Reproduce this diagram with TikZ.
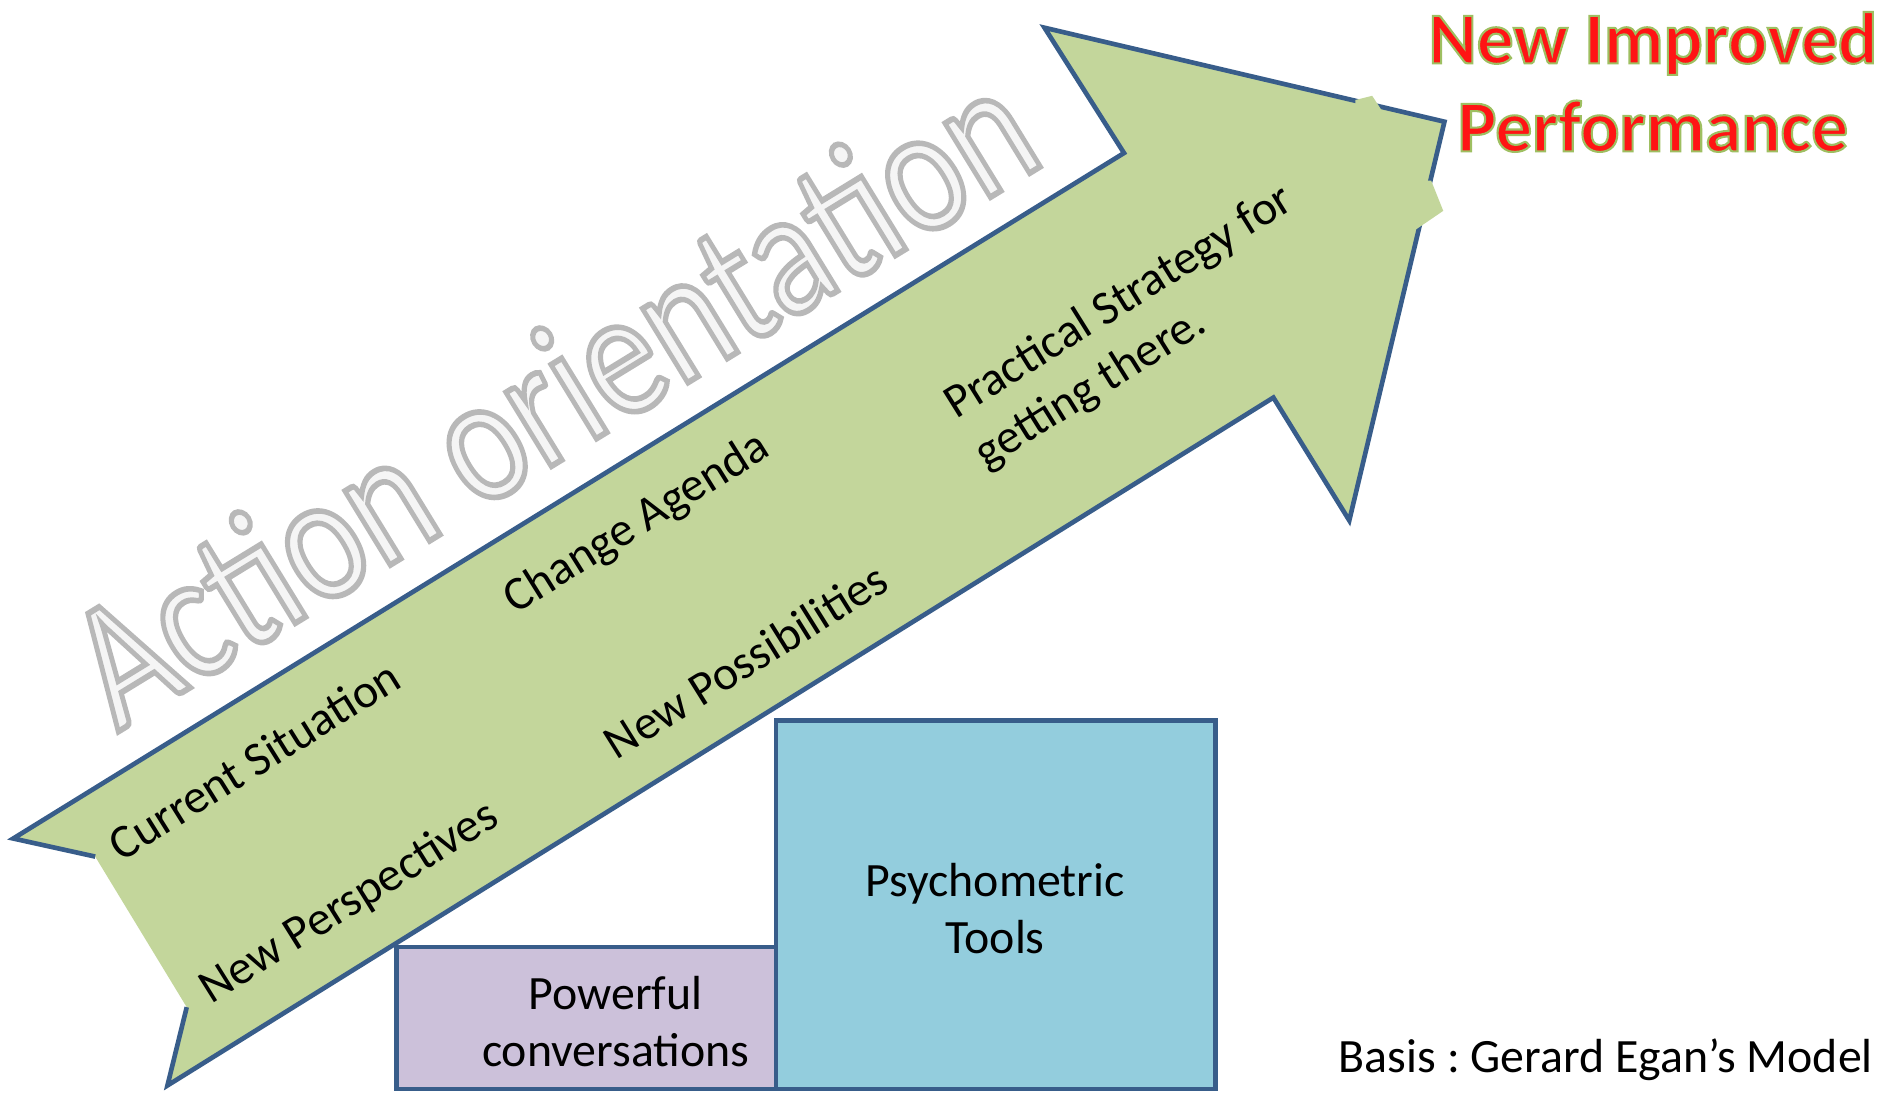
\documentclass[tikz,border=0pt]{standalone}
\usepackage{fontspec}
\setmainfont{Carlito}
\frenchspacing
\definecolor{arrowgreen}{HTML}{C3D69B}
\definecolor{edgeblue}{HTML}{385D8A}
\definecolor{lilac}{HTML}{CCC1DA}
\definecolor{skyblue}{HTML}{93CDDD}
\definecolor{titlered}{HTML}{FF1414}
% filled letters with a stroked rim
\newcommand{\rimtext}[2]{\special{pdf:literal direct 2 Tr #1}#2\special{pdf:literal direct 0 Tr}}
\tikzset{
  lbl/.style={font=\fontsize{11.3}{13.7}\selectfont, rotate=32, align=left},
  boxtext/.style={font=\fontsize{11.3}{13.5}\selectfont, align=center},
  wordart/.style={font=\fontsize{34}{40}\selectfont, rotate=31.5, xscale=1.03, yscale=1.26},
  goaltext/.style={font=\bfseries\fontsize{17.3}{20.8}\selectfont, align=center},
  block/.style={draw=edgeblue, line width=1.1pt},
}
\begin{document}
\begin{tikzpicture}[x=0.1mm, y=-0.1mm]
  \useasboundingbox (0,0) rectangle (1568,907);
  % the big arrow
  \fill[arrowgreen] (11,696) -- (79,711) -- (155,836) -- (139,901) -- (1057,330)
    -- (1120,432) -- (1199,101) -- (867,23) -- (933,127) -- cycle;
  \draw[edgeblue, line width=1.1pt] (155,836) -- (139,901) -- (1057,330) -- (1120,432)
    -- (1199,101) -- (867,23) -- (933,127) -- (11,696) -- (79,711);
  \fill[arrowgreen] (1125,83) -- (1139,79.5) -- (1146.5,91) -- (1146.5,94) -- (1125,89) -- cycle;
  \fill[arrowgreen] (1188,150) -- (1198,175) -- (1176,190) -- (1172,189) -- (1182,150) -- cycle;
  % embossed heading
  \node[wordart, text=black!4] (action) at (457,327)
    {\rimtext{1.1 w 0.72 G}{Action orientation}};
  % stages
  \node[lbl] (current) at (211,631) {Current Situation};
  \node[lbl] (persp) at (290,750) {New Perspectives};
  \node[lbl] (agenda) at (529,435) {Change Agenda};
  \node[lbl] (possib) at (619,548) {New Possibilities};
  \node[lbl] (strategy) at (942,272) {Practical Strategy for\\getting there.};
  % goal
  \node[goaltext, text=titlered] (goal) at (1372,68)
    {\rimtext{0.5 w 0.62 0.75 0.38 RG}{New Improved}\\\rimtext{0.5 w 0.62 0.75 0.38 RG}{Performance}};
  % supports
  \draw[block, fill=lilac] (329,786) rectangle (644,904);
  \draw[block, fill=skyblue] (644,598) rectangle (1009,904);
  \node[boxtext] (talk) at (511,848) {Powerful\\conversations};
  \node[boxtext] (tools) at (826,754) {Psychometric\\Tools};
  \node[boxtext] (basis) at (1333,880) {Basis : Gerard Egan’s Model};
\end{tikzpicture}
\end{document}
